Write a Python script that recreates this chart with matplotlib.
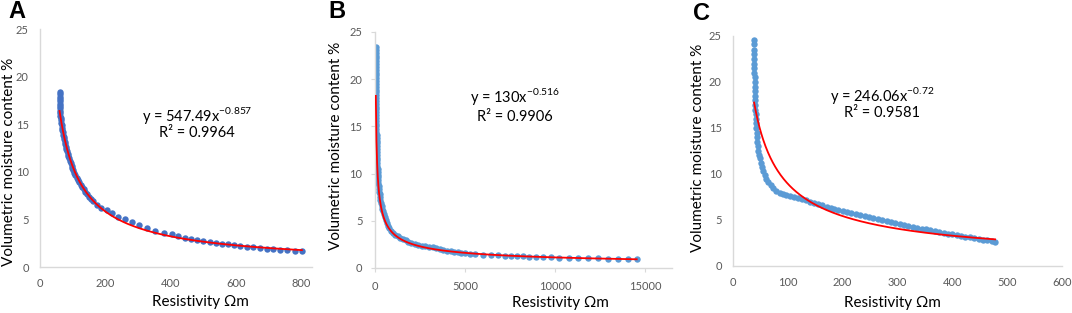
import numpy as np
import matplotlib.pyplot as plt

plt.rcParams['font.family'] = ['Lato', 'DejaVu Sans']
plt.rcParams['mathtext.fontset'] = 'custom'
plt.rcParams['mathtext.rm'] = 'Lato'

# ---- panel A : resistivity (Ohm m) vs volumetric moisture (%)
res_a = [60.0, 60.0, 60.0, 60.1, 60.2, 60.2, 60.3, 60.4, 60.6, 61.3, 62.2, 63.1,
         64.1, 65.2, 66.3, 67.5, 68.7, 70.0, 71.4, 72.8, 74.3, 75.9, 77.5, 79.2,
         81.0, 82.9, 84.9, 87.0, 89.2, 91.6, 94.1, 96.7, 99.5, 102.4, 105.5, 108.8,
         112.3, 116.0, 120.0, 124.3, 128.9, 133.8, 139.0, 144.6, 150.6, 157.0, 164.0,
         174, 188, 204, 220, 240, 260, 281, 304, 329, 352, 380, 404, 423, 444, 462,
         481, 499, 521, 539, 557, 576, 594, 613, 634, 653, 674, 695, 714, 735, 757,
         781, 803]
vmc_a = [18.4, 18.15, 17.9, 17.65, 17.4, 17.15, 16.9, 16.65, 16.4, 16.15, 15.9, 15.65,
         15.4, 15.15, 14.9, 14.65, 14.4, 14.15, 13.9, 13.65, 13.4, 13.15, 12.9, 12.65,
         12.4, 12.15, 11.9, 11.65, 11.4, 11.15, 10.9, 10.65, 10.4, 10.15, 9.9, 9.65,
         9.4, 9.15, 8.9, 8.65, 8.4, 8.15, 7.9, 7.65, 7.4, 7.15, 6.9,
         6.5, 6.25, 6.0, 5.65, 5.3, 5.0, 4.68, 4.4, 4.1, 3.82, 3.6, 3.43, 3.26, 3.08, 2.97,
         2.87, 2.76, 2.66, 2.55, 2.45, 2.38, 2.31, 2.24, 2.13, 2.07, 1.99, 1.92, 1.89, 1.82, 1.79,
         1.71, 1.65]

# ---- panel B
res_b = [45, 45, 46, 46, 47, 47, 48, 48, 49, 50, 50, 51, 52, 53, 54, 55, 56, 57, 58, 60,
         61, 63, 64, 66, 68, 70, 72, 74, 76, 79, 81, 84, 87, 90, 94, 97, 101, 105, 110,
         115, 120, 126, 132, 140, 148, 157, 166, 177, 190, 204, 220, 238, 258, 280, 305,
         333, 365, 400, 440, 485, 535, 590, 650, 720, 800, 890, 1000, 1120, 1250, 1400,
         1550, 1700, 1850, 2000, 2200, 2400, 2600, 2800, 3000, 3200, 3400, 3600, 3800,
         4000, 4200, 4400, 4600, 4800, 5000, 5250,
         5556, 5983, 6428, 6850, 7222, 7556, 7906, 8239, 8572, 8945, 9350, 9778, 10222,
         10795, 11295, 11850, 12406, 12962, 13483, 14072, 14539]
vmc_b = [23.4, 23.1, 22.8, 22.5, 22.2, 21.9, 21.6, 21.3, 21.0, 20.7, 20.4, 20.1, 19.8,
         19.5, 19.2, 18.9, 18.6, 18.3, 18.0, 17.7, 17.4, 17.1, 16.8, 16.5, 16.2, 15.9,
         15.6, 15.3, 15.0, 14.7, 14.4, 14.1, 13.8, 13.5, 13.2, 12.9, 12.6, 12.3, 12.0,
         11.7, 11.4, 11.1, 10.8, 10.5, 10.2, 9.9, 9.6, 9.3, 9.0, 8.7, 8.4, 8.1, 7.8, 7.5,
         7.2, 6.9, 6.6, 6.3, 6.0, 5.7, 5.4, 5.1, 4.8, 4.5, 4.2, 3.95, 3.7, 3.5, 3.35, 3.2,
         3.1, 2.95, 2.8, 2.65, 2.5, 2.4, 2.35, 2.3, 2.25, 2.2, 2.15, 2.05, 1.95,
         1.85, 1.8, 1.72, 1.68, 1.62, 1.57, 1.52,
         1.45, 1.42, 1.38, 1.35, 1.32, 1.29, 1.26, 1.23, 1.21, 1.18, 1.16, 1.13, 1.11,
         1.08, 1.06, 1.04, 1.02, 1.0, 0.98, 0.96, 0.95]

# ---- panel C
res_c = [38.5, 38.5, 38.6, 38.7, 38.8, 38.9, 39.0, 39.1, 39.3, 39.4, 39.6, 39.8, 40.0,
         40.3, 40.6, 40.9, 41.2, 41.5, 41.9, 42.4, 43.0, 43.6, 44.3, 45.0, 45.9, 47.0,
         48.8, 50.5, 52.5, 55.0, 58.0, 61.0, 64.5, 68.5, 73.5, 79, 85, 91, 97.5, 104, 111,
         119, 126, 133, 140, 148, 155, 163, 171, 178, 185, 192, 200, 208, 216, 224, 232,
         240, 248, 256, 264, 272, 280, 288, 296, 304, 312, 320, 328, 336, 344, 352, 360,
         368, 376, 384, 392, 400, 408, 416, 424, 432, 440, 448, 456, 464, 472, 478]
vmc_c = [24.6, 24.1, 23.5, 23.0, 22.5, 22.0, 21.5, 21.0, 20.5, 20.0, 19.5, 19.0, 18.5,
         18.0, 17.5, 17.0, 16.5, 16.0, 15.5, 15.0, 14.5, 14.0, 13.5, 13.0, 12.5, 12.1,
         11.7, 11.2, 10.75, 10.3, 9.9, 9.5, 9.15, 8.8, 8.45, 8.2, 7.98, 7.85, 7.73, 7.6, 7.48,
         7.37, 7.25, 7.12, 7.0, 6.86, 6.72, 6.58, 6.45, 6.3, 6.2, 6.09, 5.97, 5.85, 5.74,
         5.62, 5.51, 5.4, 5.29, 5.18, 5.07, 4.96, 4.86, 4.76, 4.66, 4.56, 4.46, 4.36, 4.26,
         4.16, 4.06, 3.97, 3.88, 3.79, 3.7, 3.61, 3.52, 3.44, 3.36, 3.28, 3.2, 3.12, 3.04,
         2.96, 2.88, 2.79, 2.7, 2.63]

# power trendlines y = a * x^b as printed on the chart
coef_a = [547.49, 130, 246.06]
exp_b = [-0.857, -0.516, -0.72]
eq_txt = ['y = 547.49x$^{\\mathregular{-0.857}}$', 'y = 130x$^{\\mathregular{-0.516}}$',
          'y = 246.06x$^{\\mathregular{-0.72}}$']
r2_txt = ['R² = 0.9964', 'R² = 0.9906', 'R² = 0.9581']
letters = ['A', 'B', 'C']

W, H = 1072, 313
fig = plt.figure(figsize=(W / 100, H / 100), dpi=100)


def box(l, t, r, b):
    return [l / W, 1 - b / H, (r - l) / W, (b - t) / H]


panels = [
    dict(rect=box(40, 29, 312, 267), x=res_a, y=vmc_a, col='#4472C4', xlim=834,
         xt=[0, 200, 400, 600, 800], tl=0, letter=(17, 11), ylab=(9, 162),
         xlab=(200, 302), eq=(197, 115), r2=(197, 133)),
    dict(rect=box(375, 32, 672, 268), x=res_b, y=vmc_b, col='#5B9BD5', xlim=16500,
         xt=[0, 5000, 10000, 15000], tl=3, letter=(337, 12), ylab=(336, 146),
         xlab=(560, 303), eq=(515, 97), r2=(515, 117)),
    dict(rect=box(733, 36, 1062, 266), x=res_c, y=vmc_c, col='#5B9BD5', xlim=600,
         xt=[0, 100, 200, 300, 400, 500, 600], tl=0, letter=(701, 13), ylab=(698, 148),
         xlab=(892, 303), eq=(882, 95), r2=(882, 113)),
]

for i, p in enumerate(panels):
    ax = fig.add_axes(p['rect'])
    ax.plot(p['x'], p['y'], 'o', color=p['col'], ms=4.6, mec='none', zorder=2)
    xs = np.linspace(min(p['x']), max(p['x']), 400)
    ax.plot(xs, coef_a[i] * xs ** exp_b[i], color='#FF0000', lw=1.3, zorder=3)
    ax.set_xlim(0, p['xlim'])
    ax.set_ylim(0, 25)
    ax.set_xticks(p['xt'])
    ax.set_yticks([0, 5, 10, 15, 20, 25])
    for s in ['top', 'right']:
        ax.spines[s].set_visible(False)
    for s in ['left', 'bottom']:
        ax.spines[s].set_color('#D9D9D9')
        ax.spines[s].set_linewidth(1.0)
    ax.tick_params(length=p['tl'], color='#D9D9D9', labelcolor='#595959',
                   labelsize=8, pad=8 if p['tl'] == 0 else 6)
    ax.patch.set_alpha(0)

    fig.text(p['letter'][0] / W, 1 - p['letter'][1] / H, letters[i],
             family='Liberation Sans', weight='bold', fontsize=17,
             ha='center', va='center')
    fig.text(p['ylab'][0] / W, 1 - p['ylab'][1] / H, 'Volumetric moisture content %',
             rotation=90, fontsize=11, ha='center', va='center')
    fig.text(p['xlab'][0] / W, 1 - p['xlab'][1] / H, 'Resistivity Ωm',
             fontsize=11, ha='center', va='center')
    fig.text(p['eq'][0] / W, 1 - p['eq'][1] / H, eq_txt[i],
             fontsize=10.5, ha='center', va='center')
    fig.text(p['r2'][0] / W, 1 - p['r2'][1] / H, r2_txt[i],
             fontsize=10.5, ha='center', va='center')

fig.savefig('out.png', dpi=100)
